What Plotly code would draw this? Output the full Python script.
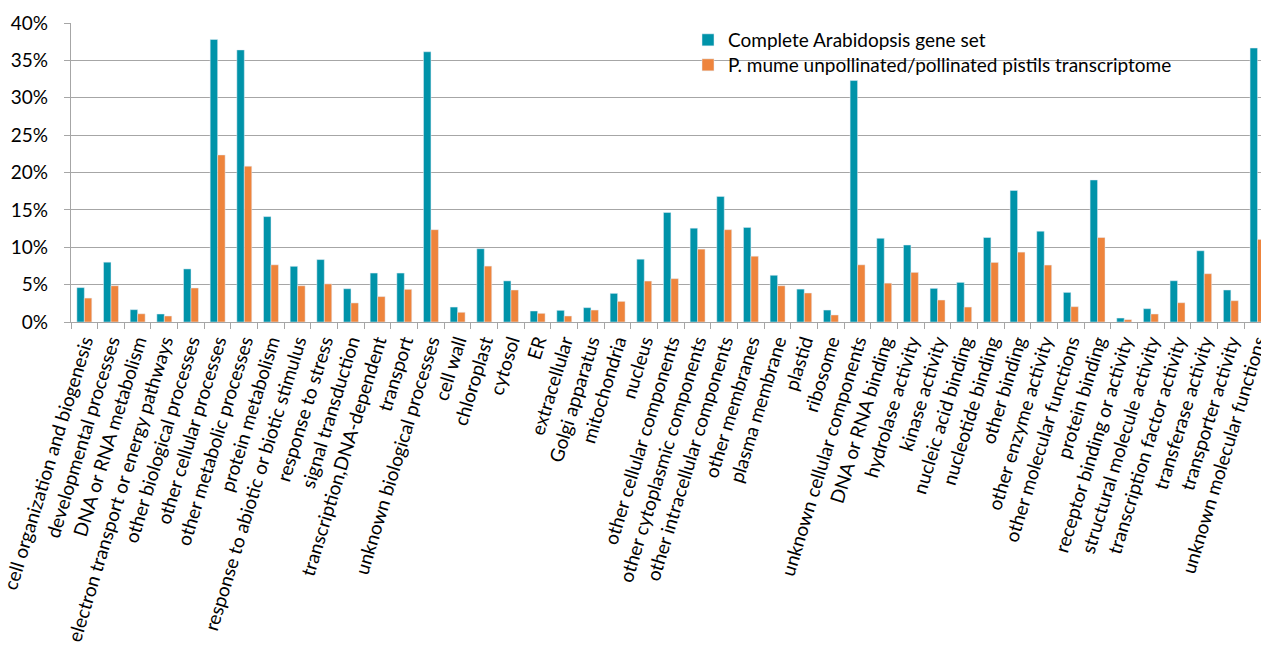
import plotly.graph_objects as go

categories = [
    "cell organization and biogenesis", "developmental processes", "DNA or RNA metabolism",
    "electron transport or energy pathways", "other biological processes", "other cellular processes",
    "other metabolic processes", "protein metabolism", "response to abiotic or biotic stimulus",
    "response to stress", "signal transduction", "transcription,DNA-dependent", "transport",
    "unknown biological processes", "cell wall", "chloroplast", "cytosol", "ER", "extracellular",
    "Golgi apparatus", "mitochondria", "nucleus", "other cellular components",
    "other cytoplasmic components", "other intracellular components", "other membranes",
    "plasma membrane", "plastid", "ribosome", "unknown cellular components", "DNA or RNA binding",
    "hydrolase activity", "kinase activity", "nucleic acid binding", "nucleotide binding",
    "other binding", "other enzyme activity", "other molecular functions", "protein binding",
    "receptor binding or activity", "structural molecule activity", "transcription factor activity",
    "transferase activity", "transporter activity", "unknown molecular functions",
]

arabidopsis = [
    4.6, 8.0, 1.65, 1.07, 7.1, 37.8, 36.4, 14.1, 7.45, 8.35, 4.45, 6.55, 6.55,
    36.15, 2.0, 9.8, 5.5, 1.47, 1.56, 1.92, 3.83, 8.4, 14.65, 12.55, 16.8, 12.65,
    6.25, 4.4, 1.6, 32.3, 11.2, 10.3, 4.5, 5.3, 11.3, 17.6, 12.15, 3.96, 19.0,
    0.53, 1.78, 5.52, 9.53, 4.28, 36.65,
]

pmume = [
    3.2, 4.85, 1.1, 0.8, 4.55, 22.35, 20.85, 7.65, 4.85, 5.1, 2.55, 3.4, 4.37,
    12.35, 1.3, 7.48, 4.28, 1.16, 0.8, 1.6, 2.76, 5.48, 5.8, 9.75, 12.35, 8.8,
    4.85, 3.88, 0.94, 7.65, 5.2, 6.64, 2.94, 2.0, 7.97, 9.35, 7.62, 2.05, 11.3,
    0.31, 1.07, 2.58, 6.46, 2.85, 11.05,
]

series_names = ["Complete Arabidopsis gene set", "P. mume unpollinated/pollinated pistils transcriptome"]
y_ticks = [0, 5, 10, 15, 20, 25, 30, 35, 40]

teal = "#0093A9"
orange = "#EE843C"
grid = "#A6A6A6"
font_family = "Lato, 'Open Sans', sans-serif"

fig = go.Figure()
fig.add_trace(go.Bar(x=categories, y=arabidopsis, name=series_names[0],
                     marker_color=teal, legend="legend"))
fig.add_trace(go.Bar(x=categories, y=pmume, name=series_names[1],
                     marker_color=orange, legend="legend2"))

legend_style = dict(
    xanchor="left", yanchor="top",
    bgcolor="rgba(0,0,0,0)", borderwidth=0,
    font=dict(size=19, family=font_family, color="#000000"),
    itemwidth=30,
)

fig.update_layout(
    width=1261, height=646,
    margin=dict(l=71, r=0, t=23, b=324, autoexpand=False),
    paper_bgcolor="white", plot_bgcolor="white",
    barmode="group", bargap=0.44, bargroupgap=0,
    font=dict(family=font_family, color="#000000"),
    legend=dict(x=0.5185, y=1.0067, **legend_style),
    legend2=dict(x=0.5185, y=0.9231, **legend_style),
    showlegend=True,
    shapes=[dict(
        type="rect", xref="paper", yref="paper", layer="between",
        x0=0.5118, x1=0.9555, y0=0.82, y1=0.993,
        fillcolor="white", line=dict(width=0),
    )],
)

fig.update_xaxes(
    type="category",
    range=[-0.5, 44.13],
    showgrid=False,
    showline=True, linecolor=grid, linewidth=1.3,
    ticks="outside", tickson="boundaries", ticklen=6, tickcolor=grid, tickwidth=1.3,
    tickangle=-73,
    tickfont=dict(size=19, family=font_family, color="#000000"),
    automargin=False,
)

fig.update_yaxes(
    range=[0, 40],
    tickvals=y_ticks,
    ticktext=[f"{v}%" for v in y_ticks],
    showgrid=True, gridcolor=grid, gridwidth=1.3,
    showline=True, linecolor=grid, linewidth=1.3,
    ticks="outside", ticklen=6, tickcolor=grid, tickwidth=1.3,
    ticklabelstandoff=12,
    tickfont=dict(size=19, family=font_family, color="#000000"),
    zeroline=False,
    automargin=False,
)

fig.write_html(
    "out.html",
    config={"displayModeBar": False},
    post_script="document.body.style.margin='0';document.body.style.overflow='hidden';",
)
